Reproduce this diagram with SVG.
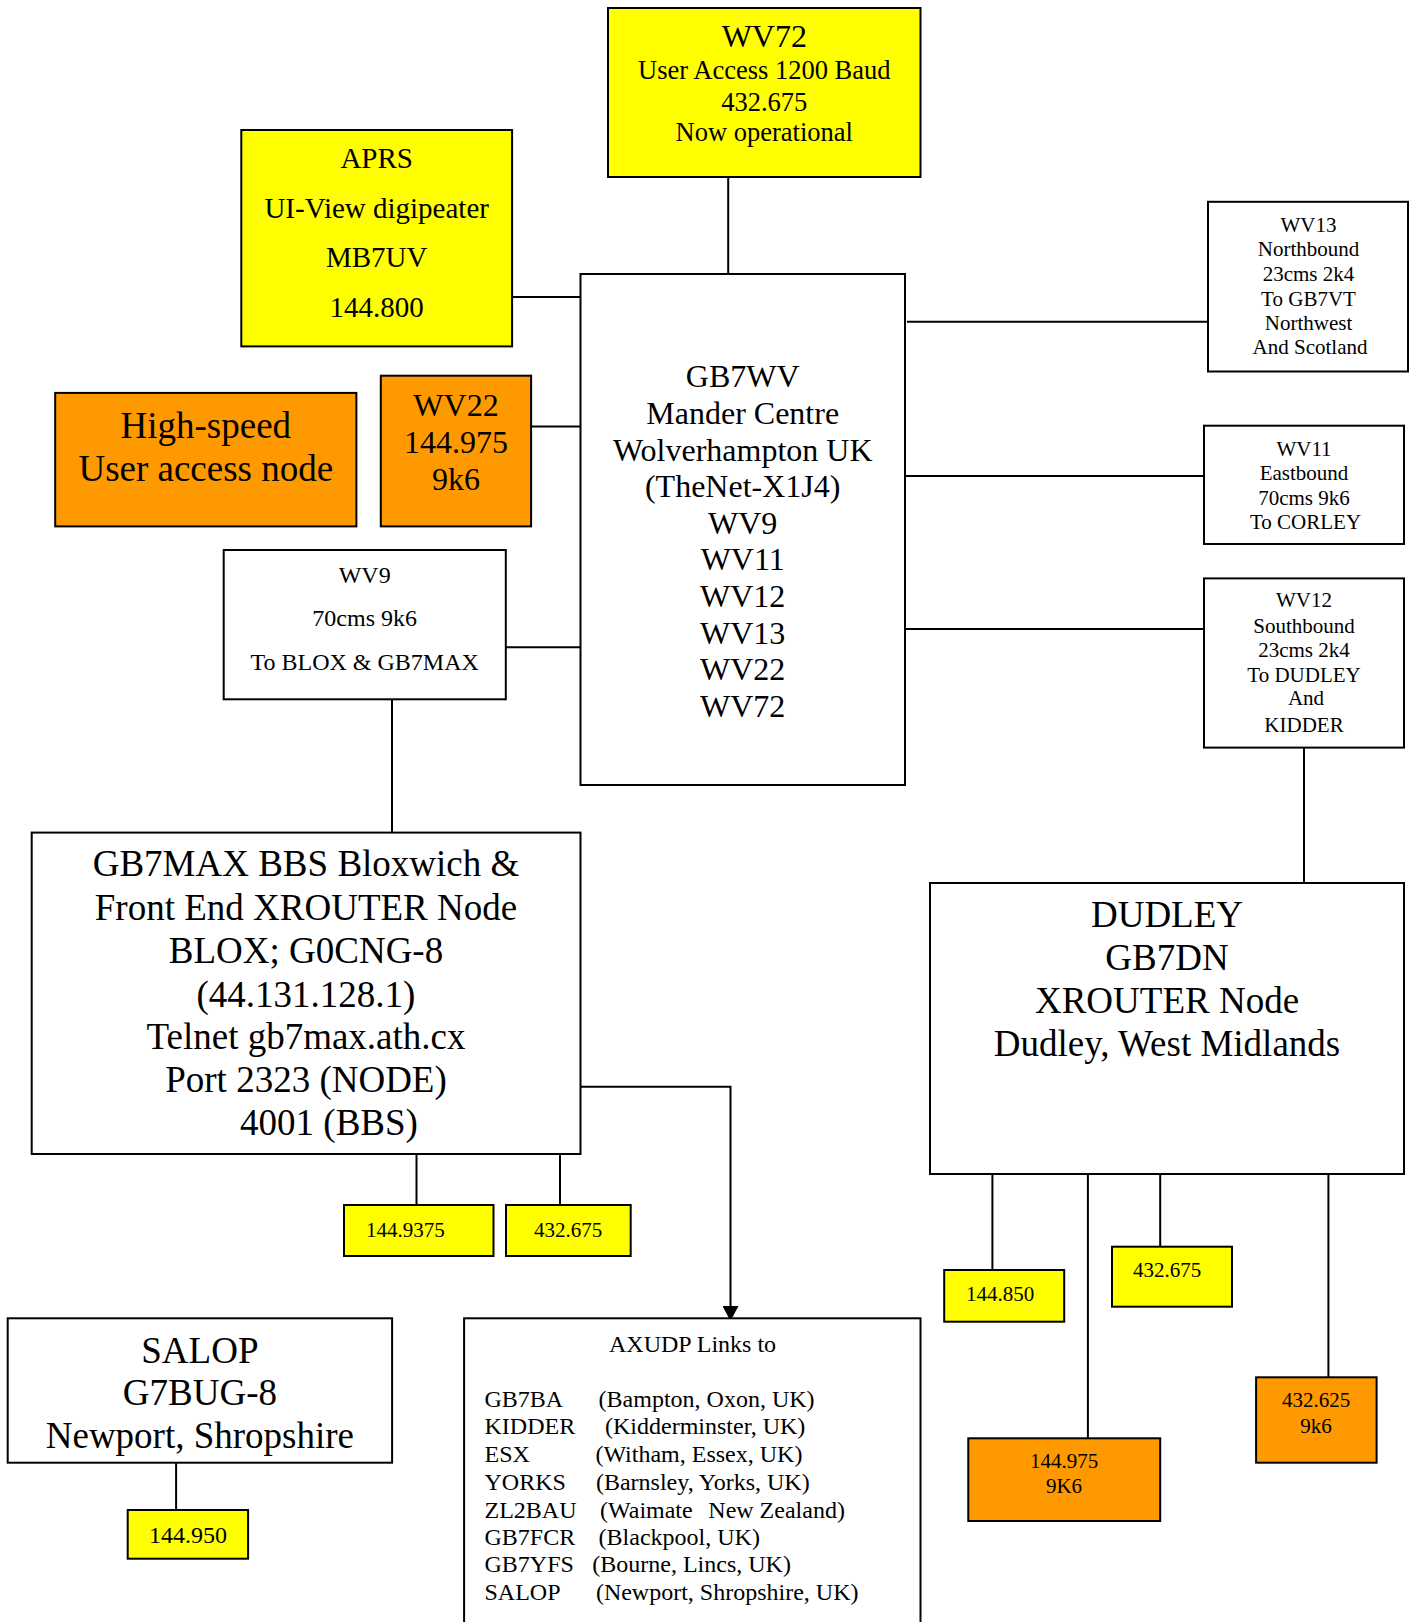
<svg xmlns="http://www.w3.org/2000/svg" width="1413" height="1622" viewBox="0 0 1413 1622">
<style>
text{font-family:"Liberation Serif","Times New Roman",serif;fill:#000}
.c{text-anchor:middle}
.box{stroke:#000;stroke-width:2}
.w{fill:#fff}
.y{fill:#ffff00}
.o{fill:#ff9900}
.ln{stroke:#000;stroke-width:2;fill:none}
.f21{font-size:21px}
.f24{font-size:24px}
.f27{font-size:26.5px}
.f29{font-size:29px}
.f32{font-size:32px}
.f37{font-size:37px}
</style>
<defs>
<marker id="arr" markerWidth="16" markerHeight="16" refX="14" refY="8" orient="auto" markerUnits="userSpaceOnUse">
<path d="M0,0 L15,8 L0,16 Z" fill="#000"/>
</marker>
</defs>
<rect width="1413" height="1622" fill="#fff"/>

<g id="connectors">
<line class="ln" x1="512" y1="297" x2="580.5" y2="297"/>
<line class="ln" x1="531" y1="426.4" x2="580.5" y2="426.4"/>
<line class="ln" x1="505.8" y1="647.2" x2="580.5" y2="647.2"/>
<line class="ln" x1="728.2" y1="177" x2="728.2" y2="274"/>
<line class="ln" x1="907" y1="321.8" x2="1208" y2="321.8"/>
<line class="ln" x1="905" y1="476" x2="1204" y2="476"/>
<line class="ln" x1="905" y1="629" x2="1204" y2="629"/>
<line class="ln" x1="1304" y1="747.6" x2="1304" y2="883"/>
<line class="ln" x1="392" y1="695" x2="392" y2="832.6"/>
<polyline class="ln" points="580.5,1086.8 730.5,1086.8 730.5,1320" marker-end="url(#arr)"/>
<line class="ln" x1="416.5" y1="1154" x2="416.5" y2="1205"/>
<line class="ln" x1="560" y1="1154" x2="560" y2="1205"/>
<line class="ln" x1="992.4" y1="1174" x2="992.4" y2="1270"/>
<line class="ln" x1="1087.9" y1="1174" x2="1087.9" y2="1438.3"/>
<line class="ln" x1="1160.2" y1="1174" x2="1160.2" y2="1246.7"/>
<line class="ln" x1="1328.4" y1="1174" x2="1328.4" y2="1377.3"/>
<line class="ln" x1="176.1" y1="1462.7" x2="176.1" y2="1510"/>
</g>

<g id="wv72">
<rect class="box y" x="608" y="8" width="312.5" height="169"/>
<text class="c f32" x="764.3" y="47">WV72</text>
<text class="c f27" x="764.3" y="79.3">User Access 1200 Baud</text>
<text class="c f27" x="764.3" y="110.7">432.675</text>
<text class="c f27" x="764.3" y="141">Now operational</text>
</g>

<g id="aprs">
<rect class="box y" x="241.3" y="130" width="270.8" height="216.4"/>
<text class="c f29" x="376.7" y="168">APRS</text>
<text class="c f29" x="376.7" y="217.5">UI-View digipeater</text>
<text class="c f29" x="376.7" y="267">MB7UV</text>
<text class="c f29" x="376.7" y="317">144.800</text>
</g>

<g id="highspeed">
<rect class="box o" x="55.2" y="392.9" width="301.2" height="133.5"/>
<text class="c f37" x="205.8" y="437.5">High-speed</text>
<text class="c f37" x="205.8" y="481">User access node</text>
</g>

<g id="wv22">
<rect class="box o" x="380.8" y="375.7" width="150.3" height="150.7"/>
<text class="c f32" x="456" y="416">WV22</text>
<text class="c f32" x="456" y="452.8">144.975</text>
<text class="c f32" x="456" y="490">9k6</text>
</g>

<g id="gb7wv">
<rect class="box w" x="580.5" y="274" width="324.5" height="511"/>
<text class="c f32" x="742.7" y="386.7">GB7WV</text>
<text class="c f32" x="742.7" y="424">Mander Centre</text>
<text class="c f32" x="742.7" y="460.7">Wolverhampton UK</text>
<text class="c f32" x="742.7" y="497">(TheNet-X1J4)</text>
<text class="c f32" x="742.7" y="533.5">WV9</text>
<text class="c f32" x="742.7" y="570.4">WV11</text>
<text class="c f32" x="742.7" y="607.2">WV12</text>
<text class="c f32" x="742.7" y="644">WV13</text>
<text class="c f32" x="742.7" y="680.4">WV22</text>
<text class="c f32" x="742.7" y="716.7">WV72</text>
</g>

<g id="wv13">
<rect class="box w" x="1208" y="201.8" width="200" height="169.7"/>
<text class="c f21" x="1308.5" y="232.3">WV13</text>
<text class="c f21" x="1308.5" y="256">Northbound</text>
<text class="c f21" x="1308.5" y="281">23cms 2k4</text>
<text class="c f21" x="1308.5" y="306">To GB7VT</text>
<text class="c f21" x="1308.5" y="330">Northwest</text>
<text class="c f21" x="1310" y="354.3">And Scotland</text>
</g>

<g id="wv11">
<rect class="box w" x="1204" y="425.7" width="200" height="118.3"/>
<text class="c f21" x="1304" y="456.4">WV11</text>
<text class="c f21" x="1304" y="480.4">Eastbound</text>
<text class="c f21" x="1304" y="504.6">70cms 9k6</text>
<text class="c f21" x="1305.5" y="528.6">To CORLEY</text>
</g>

<g id="wv12">
<rect class="box w" x="1204" y="578.4" width="200" height="169.2"/>
<text class="c f21" x="1304" y="607.2">WV12</text>
<text class="c f21" x="1304" y="632.9">Southbound</text>
<text class="c f21" x="1304" y="657.4">23cms 2k4</text>
<text class="c f21" x="1304" y="681.6">To DUDLEY</text>
<text class="c f21" x="1306" y="705.3">And</text>
<text class="c f21" x="1304" y="731.8">KIDDER</text>
</g>

<g id="wv9">
<rect class="box w" x="223.7" y="550" width="282.1" height="149.3"/>
<text class="c f24" x="364.7" y="582.7">WV9</text>
<text class="c f24" x="364.7" y="626">70cms 9k6</text>
<text class="c f24" x="364.7" y="670">To BLOX &amp; GB7MAX</text>
</g>

<g id="gb7max">
<rect class="box w" x="31.7" y="832.6" width="548.8" height="321.4"/>
<text class="c f37" x="306" y="876">GB7MAX BBS Bloxwich &amp;</text>
<text class="c f37" x="306" y="919.6">Front End XROUTER Node</text>
<text class="c f37" x="306" y="963">BLOX; G0CNG-8</text>
<text class="c f37" x="306" y="1006.6">(44.131.128.1)</text>
<text class="c f37" x="306" y="1048.5">Telnet gb7max.ath.cx</text>
<text class="c f37" x="306" y="1091.6">Port 2323 (NODE)</text>
<text class="c f37" x="329" y="1135">4001 (BBS)</text>
</g>

<g id="dudley">
<rect class="box w" x="930" y="883" width="474" height="291"/>
<text class="c f37" x="1167" y="926.7">DUDLEY</text>
<text class="c f37" x="1167" y="970.2">GB7DN</text>
<text class="c f37" x="1167" y="1013.3">XROUTER Node</text>
<text class="c f37" x="1167" y="1056">Dudley, West Midlands</text>
</g>

<g id="f1449375">
<rect class="box y" x="344" y="1205" width="149.5" height="51"/>
<text class="f21" x="366" y="1237">144.9375</text>
</g>

<g id="f432675a">
<rect class="box y" x="506" y="1205" width="124.7" height="51"/>
<text class="c f21" x="568" y="1237">432.675</text>
</g>

<g id="salop">
<rect class="box w" x="7.7" y="1318.3" width="384.4" height="144.4"/>
<text class="c f37" x="199.9" y="1362.7">SALOP</text>
<text class="c f37" x="199.9" y="1405">G7BUG-8</text>
<text class="c f37" x="199.9" y="1448.3">Newport, Shropshire</text>
</g>

<g id="f144950">
<rect class="box y" x="127.7" y="1510" width="120.4" height="48.7"/>
<text class="c f24" x="188" y="1543.3">144.950</text>
</g>

<g id="axudp">
<rect class="box w" x="464.1" y="1318.3" width="456.4" height="310"/>
<text class="f24" x="609" y="1351.7">AXUDP Links to</text>
<text class="f24" x="484.5" y="1406.7">GB7BA</text><text class="f24" x="598.6" y="1406.7">(Bampton, Oxon, UK)</text>
<text class="f24" x="484.5" y="1434.3">KIDDER</text><text class="f24" x="605" y="1434.3">(Kidderminster, UK)</text>
<text class="f24" x="484.5" y="1462.3">ESX</text><text class="f24" x="595.4" y="1462.3">(Witham, Essex, UK)</text>
<text class="f24" x="484.5" y="1490">YORKS</text><text class="f24" x="595.9" y="1490">(Barnsley, Yorks, UK)</text>
<text class="f24" x="484.5" y="1517.7">ZL2BAU</text><text class="f24" x="600" y="1517.7">(Waimate<tspan x="708.3">New Zealand)</tspan></text>
<text class="f24" x="484.5" y="1545">GB7FCR</text><text class="f24" x="598.6" y="1545">(Blackpool, UK)</text>
<text class="f24" x="484.5" y="1572.3">GB7YFS</text><text class="f24" x="592.3" y="1572.3">(Bourne, Lincs, UK)</text>
<text class="f24" x="484.5" y="1600">SALOP</text><text class="f24" x="595.9" y="1600">(Newport, Shropshire, UK)</text>
</g>

<g id="f144850">
<rect class="box y" x="944.2" y="1270" width="120" height="51.7"/>
<text class="f21" x="966" y="1300.7">144.850</text>
</g>

<g id="f432675b">
<rect class="box y" x="1112" y="1246.7" width="120" height="60"/>
<text class="f21" x="1133" y="1276.7">432.675</text>
</g>

<g id="f144975">
<rect class="box o" x="968.3" y="1438.3" width="191.9" height="82.7"/>
<text class="c f21" x="1064" y="1468.3">144.975</text>
<text class="c f21" x="1064" y="1493.3">9K6</text>
</g>

<g id="f432625">
<rect class="box o" x="1256.1" y="1377.3" width="120.5" height="85.4"/>
<text class="c f21" x="1316" y="1406.7">432.625</text>
<text class="c f21" x="1316" y="1432.7">9k6</text>
</g>
</svg>
